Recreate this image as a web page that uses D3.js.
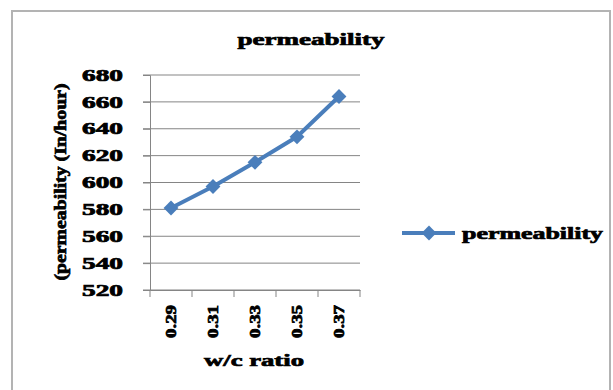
<!DOCTYPE html>
<html><head><meta charset="utf-8">
<script src="https://cdn.jsdelivr.net/npm/d3@7"></script>
<style>body{margin:0;background:#fff}svg{display:block}</style>
</head><body>
<script>
const categories = ["0.29","0.31","0.33","0.35","0.37"];
const values = [581, 597, 615, 634, 664];
const yTicks = [520,540,560,580,600,620,640,660,680];
const seriesName = "permeability";
const chartTitle = "permeability";
const xTitle = "w/c ratio";
const yTitle = "(permeability (In/hour)";

const W = 613, H = 390;
const svg = d3.select("body").append("svg").attr("width", W).attr("height", H);
const font = "'Liberation Serif', serif";
const blue = "#4a7ebb";
const heavy = sel => sel.attr("stroke", "#000").attr("stroke-width", 0.7);

svg.append("rect").attr("x", 12).attr("y", 11).attr("width", 598).attr("height", 390)
  .attr("fill", "#fff").attr("stroke", "#b3b3b3").attr("stroke-width", 2);

const x = d3.scaleBand().domain(categories).range([150, 360]);
const y = d3.scaleLinear().domain([520, 680]).range([290, 75]);

// gridlines
svg.append("g").selectAll("line").data(yTicks).join("line")
  .attr("x1", 143).attr("x2", 360)
  .attr("y1", d => y(d)).attr("y2", d => y(d))
  .attr("stroke", "#858585").attr("stroke-width", 1);

// y axis
const ya = svg.append("g").attr("transform", "translate(150,0)")
  .call(d3.axisLeft(y).tickValues(yTicks).tickSize(7).tickFormat(d3.format("d")));
ya.select(".domain").attr("stroke", "#858585");
ya.selectAll(".tick line").attr("stroke", "#858585");
ya.selectAll(".tick text").attr("x", -27).attr("font-family", font).attr("font-weight", "bold")
  .attr("font-size", 16).attr("fill", "#000").attr("text-anchor", "end")
  .attr("textLength", 41).attr("lengthAdjust", "spacingAndGlyphs").call(heavy);

// x axis
const xa = svg.append("g").attr("transform", "translate(0,290)")
  .call(d3.axisBottom(x).tickSize(0).tickFormat(""));
xa.select(".domain").attr("stroke", "#858585");
const bounds = categories.map(c => x(c)).concat([x.range()[1]]);
svg.append("g").selectAll("line").data(bounds).join("line")
  .attr("x1", d => d).attr("x2", d => d).attr("y1", 290).attr("y2", 297)
  .attr("stroke", "#858585");
xa.selectAll(".tick").append("text")
  .attr("transform", "rotate(-90)")
  .attr("x", -48).attr("y", 0).attr("dy", "0.35em")
  .attr("font-family", font).attr("font-weight", "bold").attr("font-size", 14)
  .attr("fill", "#000").attr("text-anchor", "start")
  .attr("textLength", 33).attr("lengthAdjust", "spacingAndGlyphs")
  .text(d => d).call(heavy);

// line + markers
const line = d3.line().x((d, i) => x(categories[i]) + x.bandwidth() / 2).y(d => y(d));
svg.append("path").datum(values).attr("d", line).attr("fill", "none")
  .attr("stroke", blue).attr("stroke-width", 4).attr("stroke-linejoin", "round");
const diamond = d3.symbol().type(d3.symbolDiamond2).size(140);
svg.append("g").selectAll("path").data(values).join("path")
  .attr("d", diamond)
  .attr("transform", (d, i) => `translate(${x(categories[i]) + x.bandwidth() / 2},${y(d)})`)
  .attr("fill", blue);

// title
svg.append("text").attr("x", 311).attr("y", 45).attr("text-anchor", "middle")
  .attr("font-family", font).attr("font-weight", "bold").attr("font-size", 17)
  .attr("textLength", 147).attr("lengthAdjust", "spacingAndGlyphs").text(chartTitle).call(heavy);

// axis titles
svg.append("text").attr("transform", "translate(66,182) rotate(-90)").attr("text-anchor", "middle")
  .attr("font-family", font).attr("font-weight", "bold").attr("font-size", 17)
  .attr("textLength", 197).attr("lengthAdjust", "spacingAndGlyphs").text(yTitle).call(heavy);
svg.append("text").attr("x", 254).attr("y", 366).attr("text-anchor", "middle")
  .attr("font-family", font).attr("font-weight", "bold").attr("font-size", 17)
  .attr("textLength", 100).attr("lengthAdjust", "spacingAndGlyphs").text(xTitle).call(heavy);

// legend
const lg = svg.append("g");
lg.append("line").attr("x1", 402).attr("x2", 455).attr("y1", 233).attr("y2", 233)
  .attr("stroke", blue).attr("stroke-width", 4);
lg.append("path").attr("d", diamond).attr("transform", "translate(429,233)").attr("fill", blue);
lg.append("text").attr("x", 462).attr("y", 239)
  .attr("font-family", font).attr("font-weight", "bold").attr("font-size", 17)
  .attr("textLength", 141).attr("lengthAdjust", "spacingAndGlyphs").text(seriesName).call(heavy);
</script>
</body></html>
